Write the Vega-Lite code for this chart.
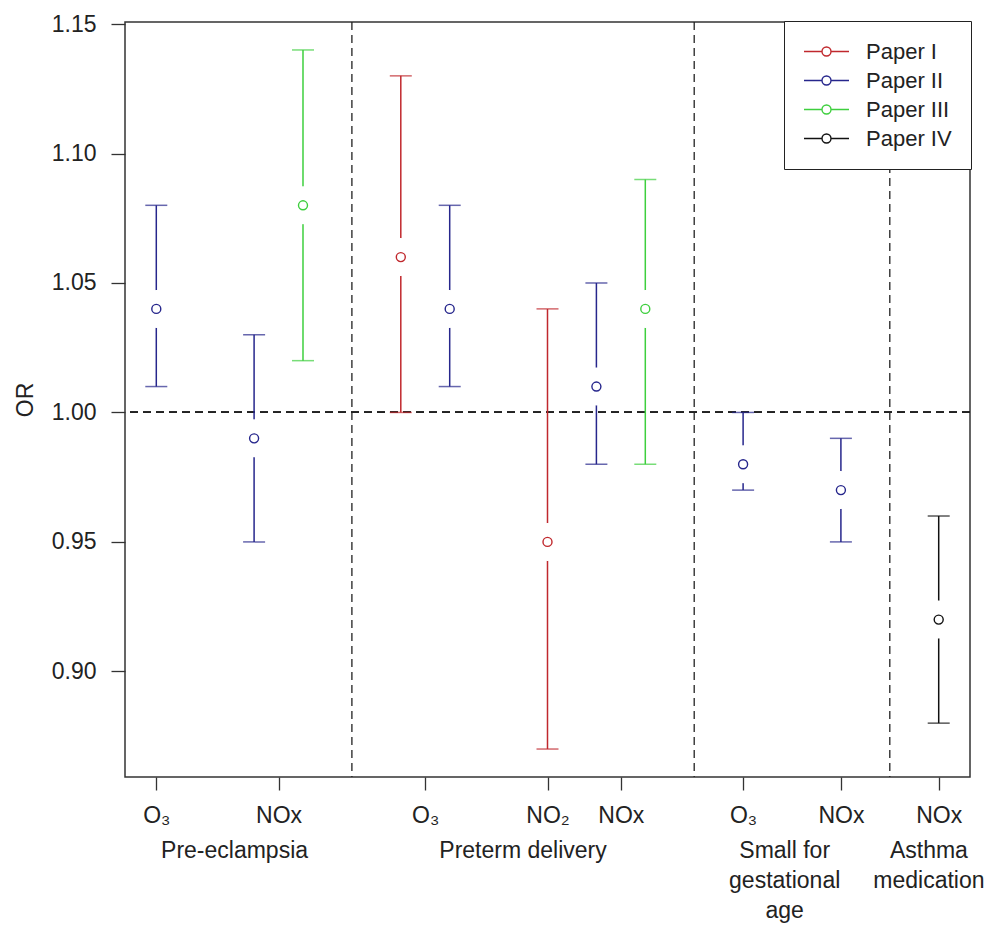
{
  "$schema": "https://vega.github.io/schema/vega-lite/v6.json",
  "width": 845,
  "height": 755,
  "autosize": {"type": "none"},
  "padding": {"left": 125, "top": 22, "right": 24, "bottom": 149},
  "background": "white",
  "config": {
    "view": {"stroke": "#333333", "strokeWidth": 1.5},
    "font": "Liberation Sans",
    "axis": {
      "domain": false,
      "grid": false,
      "labelFont": "Liberation Sans",
      "labelFontSize": 23,
      "labelColor": "#222222",
      "tickColor": "#333333",
      "tickWidth": 1.3,
      "titleFont": "Liberation Sans",
      "titleFontSize": 23,
      "titleFontWeight": "normal",
      "titleColor": "#222222"
    },
    "legend": {
      "orient": "none",
      "legendX": 659,
      "legendY": -1,
      "strokeColor": "#222222",
      "padding": 19,
      "fillColor": "white",
      "labelFont": "Liberation Sans",
      "labelFontSize": 22,
      "labelColor": "#222222",
      "labelOffset": 16,
      "clipHeight": 23,
      "rowPadding": 6,
      "symbolType": "M-1,0L-0.2,0M1,0L0.2,0M0.2,0A0.2,0.2 0 1 1 -0.2,0A0.2,0.2 0 1 1 0.2,0A0.2,0.2 0 1 0 -0.2,0A0.2,0.2 0 1 0 0.2,0",
      "symbolSize": 2025,
      "symbolStrokeWidth": 1.4,
      "symbolOpacity": 1
    }
  },
  "data": {
    "values": [
      {"pos": 0, "paper": "Paper II", "or": 1.04, "lo": 1.01, "hi": 1.08},
      {"pos": 4, "paper": "Paper II", "or": 0.99, "lo": 0.95, "hi": 1.03},
      {"pos": 6, "paper": "Paper III", "or": 1.08, "lo": 1.02, "hi": 1.14},
      {"pos": 10, "paper": "Paper I", "or": 1.06, "lo": 1.00, "hi": 1.13},
      {"pos": 12, "paper": "Paper II", "or": 1.04, "lo": 1.01, "hi": 1.08},
      {"pos": 16, "paper": "Paper I", "or": 0.95, "lo": 0.87, "hi": 1.04},
      {"pos": 18, "paper": "Paper II", "or": 1.01, "lo": 0.98, "hi": 1.05},
      {"pos": 20, "paper": "Paper III", "or": 1.04, "lo": 0.98, "hi": 1.09},
      {"pos": 24, "paper": "Paper II", "or": 0.98, "lo": 0.97, "hi": 1.00},
      {"pos": 28, "paper": "Paper II", "or": 0.97, "lo": 0.95, "hi": 0.99},
      {"pos": 32, "paper": "Paper IV", "or": 0.92, "lo": 0.88, "hi": 0.96}
    ]
  },
  "encoding": {
    "x": {
      "field": "pos",
      "type": "quantitative",
      "scale": {"domain": [-1.28, 33.28], "nice": false, "zero": false},
      "axis": {
        "title": null,
        "values": [0, 5, 11, 16, 19, 24, 28, 32],
        "tickSize": 13,
        "labelPadding": 14,
        "labelExpr": "datum.value == 0 || datum.value == 11 || datum.value == 24 ? 'O₃' : datum.value == 16 ? 'NO₂' : 'NOx'"
      }
    }
  },
  "layer": [
    {
      "mark": {"type": "rule", "strokeDash": [8, 5], "color": "#222222", "strokeWidth": 1.3},
      "encoding": {
        "x": null,
        "y": {
          "datum": 1,
          "type": "quantitative",
          "scale": {"domain": [0.8592, 1.1508], "nice": false, "zero": false},
          "axis": {
            "title": "OR",
            "values": [0.9, 0.95, 1.0, 1.05, 1.1, 1.15],
            "format": ".2f",
            "tickSize": 14,
            "labelPadding": 15,
            "titlePadding": 14
          }
        }
      }
    },
    {
      "data": {"values": [{"div": 8}, {"div": 22}, {"div": 30}]},
      "mark": {"type": "rule", "strokeDash": [8, 5], "color": "#222222", "strokeWidth": 1.3},
      "encoding": {
        "x": {"field": "div", "type": "quantitative"}
      }
    },
    {
      "mark": {"type": "rule", "strokeWidth": 1.5},
      "encoding": {
        "y": {"field": "lo", "type": "quantitative"},
        "y2": {"field": "hi"},
        "color": {
          "field": "paper",
          "type": "nominal",
          "scale": {"domain": ["Paper I", "Paper II", "Paper III", "Paper IV"], "range": ["#c0282d", "#26268c", "#3ecf3e", "#111111"]},
          "legend": {"title": null}
        }
      }
    },
    {
      "mark": {"type": "tick", "orient": "horizontal", "size": 22, "thickness": 1.5},
      "encoding": {
        "y": {"field": "lo", "type": "quantitative"},
        "color": {"field": "paper", "type": "nominal"}
      }
    },
    {
      "mark": {"type": "tick", "orient": "horizontal", "size": 22, "thickness": 1.5},
      "encoding": {
        "y": {"field": "hi", "type": "quantitative"},
        "color": {"field": "paper", "type": "nominal"}
      }
    },
    {
      "mark": {"type": "point", "shape": "circle", "filled": true, "size": 1444, "color": "white", "opacity": 1, "strokeWidth": 0},
      "encoding": {
        "y": {"field": "or", "type": "quantitative"}
      }
    },
    {
      "mark": {"type": "point", "shape": "circle", "filled": false, "size": 81, "strokeWidth": 1.4, "opacity": 1},
      "encoding": {
        "y": {"field": "or", "type": "quantitative"},
        "color": {"field": "paper", "type": "nominal"}
      }
    },
    {
      "data": {
        "values": [
          {"gx": 3.2, "group": "Pre-eclampsia"},
          {"gx": 15.0, "group": "Preterm delivery"},
          {"gx": 25.7, "group": "Small for\ngestational\nage"},
          {"gx": 31.6, "group": "Asthma\nmedication"}
        ]
      },
      "mark": {"type": "text", "baseline": "top", "align": "center", "dy": 63, "fontSize": 23, "font": "Liberation Sans", "color": "#222222", "lineBreak": "\n", "lineHeight": 30},
      "encoding": {
        "x": {"field": "gx", "type": "quantitative"},
        "y": {"datum": 0.8592, "type": "quantitative"},
        "text": {"field": "group"}
      }
    }
  ]
}
